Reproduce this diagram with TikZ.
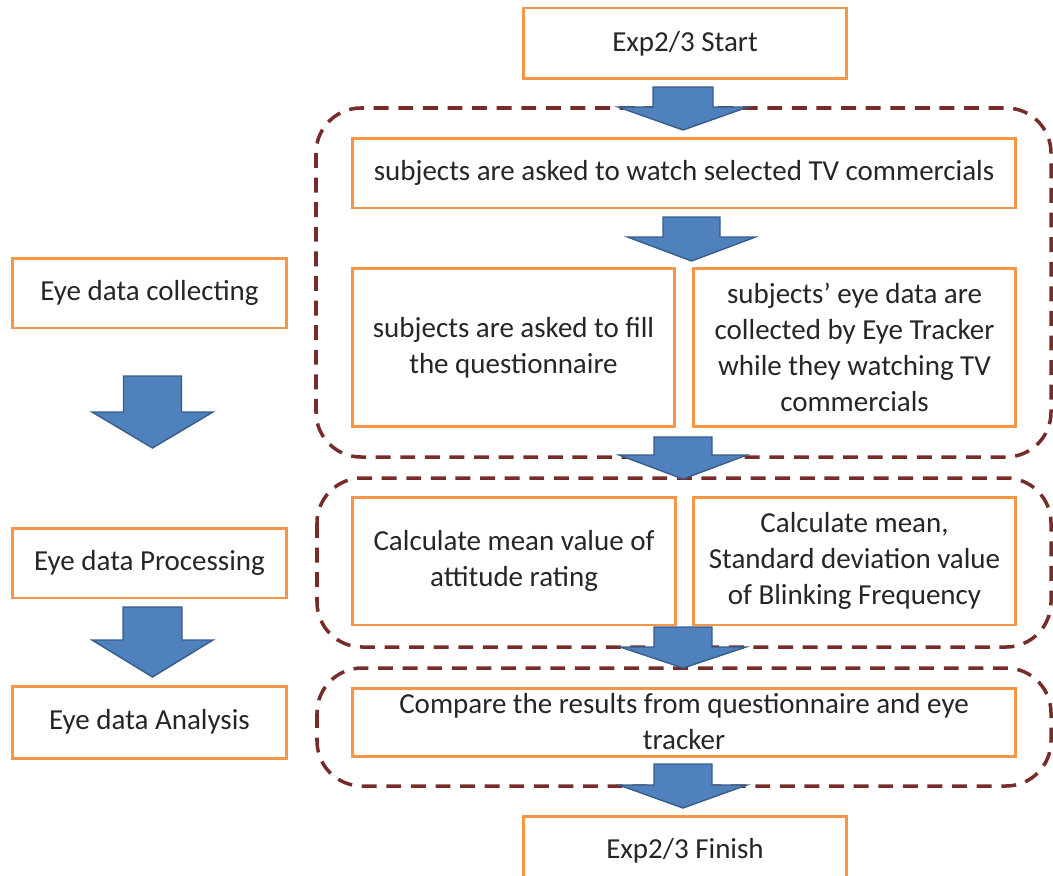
\documentclass[tikz,border=0pt]{standalone}
\usepackage{fontspec}
\setmainfont{Carlito}
\definecolor{boxorange}{HTML}{F79646}
\definecolor{groupred}{HTML}{772C2A}
\definecolor{arrowblue}{HTML}{4F81BD}
\definecolor{arrowedge}{HTML}{385D8A}
\tikzset{
  stepbox/.style={draw=boxorange, line width=1.7pt, fill=white, align=center,
    text=black!85, font=\fontsize{16.5}{20.5}\selectfont, inner sep=2pt},
  groupbox/.style={draw=groupred, line width=2pt, dash pattern=on 8.5pt off 5.5pt,
    rounded corners=0.9cm},
  blockarrow/.style={draw=arrowedge, fill=arrowblue, line width=0.8pt, line join=miter}
}
% centre x, half stem, half head, top, head top, tip
\newcommand{\blockdown}[6]{%
  \draw[blockarrow] ({#1-#2},#4) -- ({#1+#2},#4) -- ({#1+#2},#5) -- ({#1+#3},#5)
    -- (#1,#6) -- ({#1-#3},#5) -- ({#1-#2},#5) -- cycle;}
\begin{document}
\begin{tikzpicture}[x=0.02cm, y=-0.02cm]
\useasboundingbox (0,0) rectangle (1053,875);
\clip (0,0) rectangle (1053,875);
% dashed stages
\draw[groupbox] (316,108) rectangle (1051,457);
\draw[groupbox] (317,478) rectangle (1051,647);
\draw[groupbox] (317,668) rectangle (1051,786);
% main flow
\node[stepbox, minimum width=6.48cm, minimum height=1.42cm] (start) at (685,43.5) {Exp2/3 Start};
\node[stepbox, minimum width=13.28cm, minimum height=1.4cm] (watch) at (684,173) {subjects are asked to watch selected TV commercials};
\node[stepbox, minimum width=6.46cm, minimum height=3.18cm] (fill) at (513.5,347.5) {subjects are asked to fill\\the questionnaire};
\node[stepbox, minimum width=6.46cm, minimum height=3.18cm] (track) at (854.5,347.5) {subjects’ eye data are\\collected by Eye Tracker\\while they watching TV\\commercials};
\node[stepbox, minimum width=6.48cm, minimum height=2.56cm] (meanatt) at (514,561) {Calculate mean value of\\attitude rating};
\node[stepbox, minimum width=6.46cm, minimum height=2.56cm] (meanblink) at (854.5,561) {Calculate mean,\\Standard deviation value\\of Blinking Frequency};
\node[stepbox, minimum width=13.28cm, minimum height=1.36cm] (compare) at (684,722) {Compare the results from questionnaire and eye\\tracker};
\node[stepbox, minimum width=6.48cm, minimum height=1.4cm] (finish) at (685,851) {Exp2/3 Finish};
% left column
\node[stepbox, minimum width=5.5cm, minimum height=1.4cm] (collect) at (149.5,293) {Eye data collecting};
\node[stepbox, minimum width=5.5cm, minimum height=1.4cm] (process) at (149.5,563) {Eye data Processing};
\node[stepbox, minimum width=5.5cm, minimum height=1.44cm] (analyse) at (149.5,722) {Eye data Analysis};
% block arrows
\blockdown{683}{30}{65}{87}{107}{130}
\blockdown{691.5}{28.5}{64}{217}{237}{261}
\blockdown{683}{29}{64}{437}{455}{479}
\blockdown{683}{29}{63}{627}{647}{668}
\blockdown{683}{29}{64}{764}{785}{808}
\blockdown{152.5}{29}{60.5}{376}{412}{448}
\blockdown{152.5}{29.5}{60.5}{607}{640}{677}
\end{tikzpicture}
\end{document}
